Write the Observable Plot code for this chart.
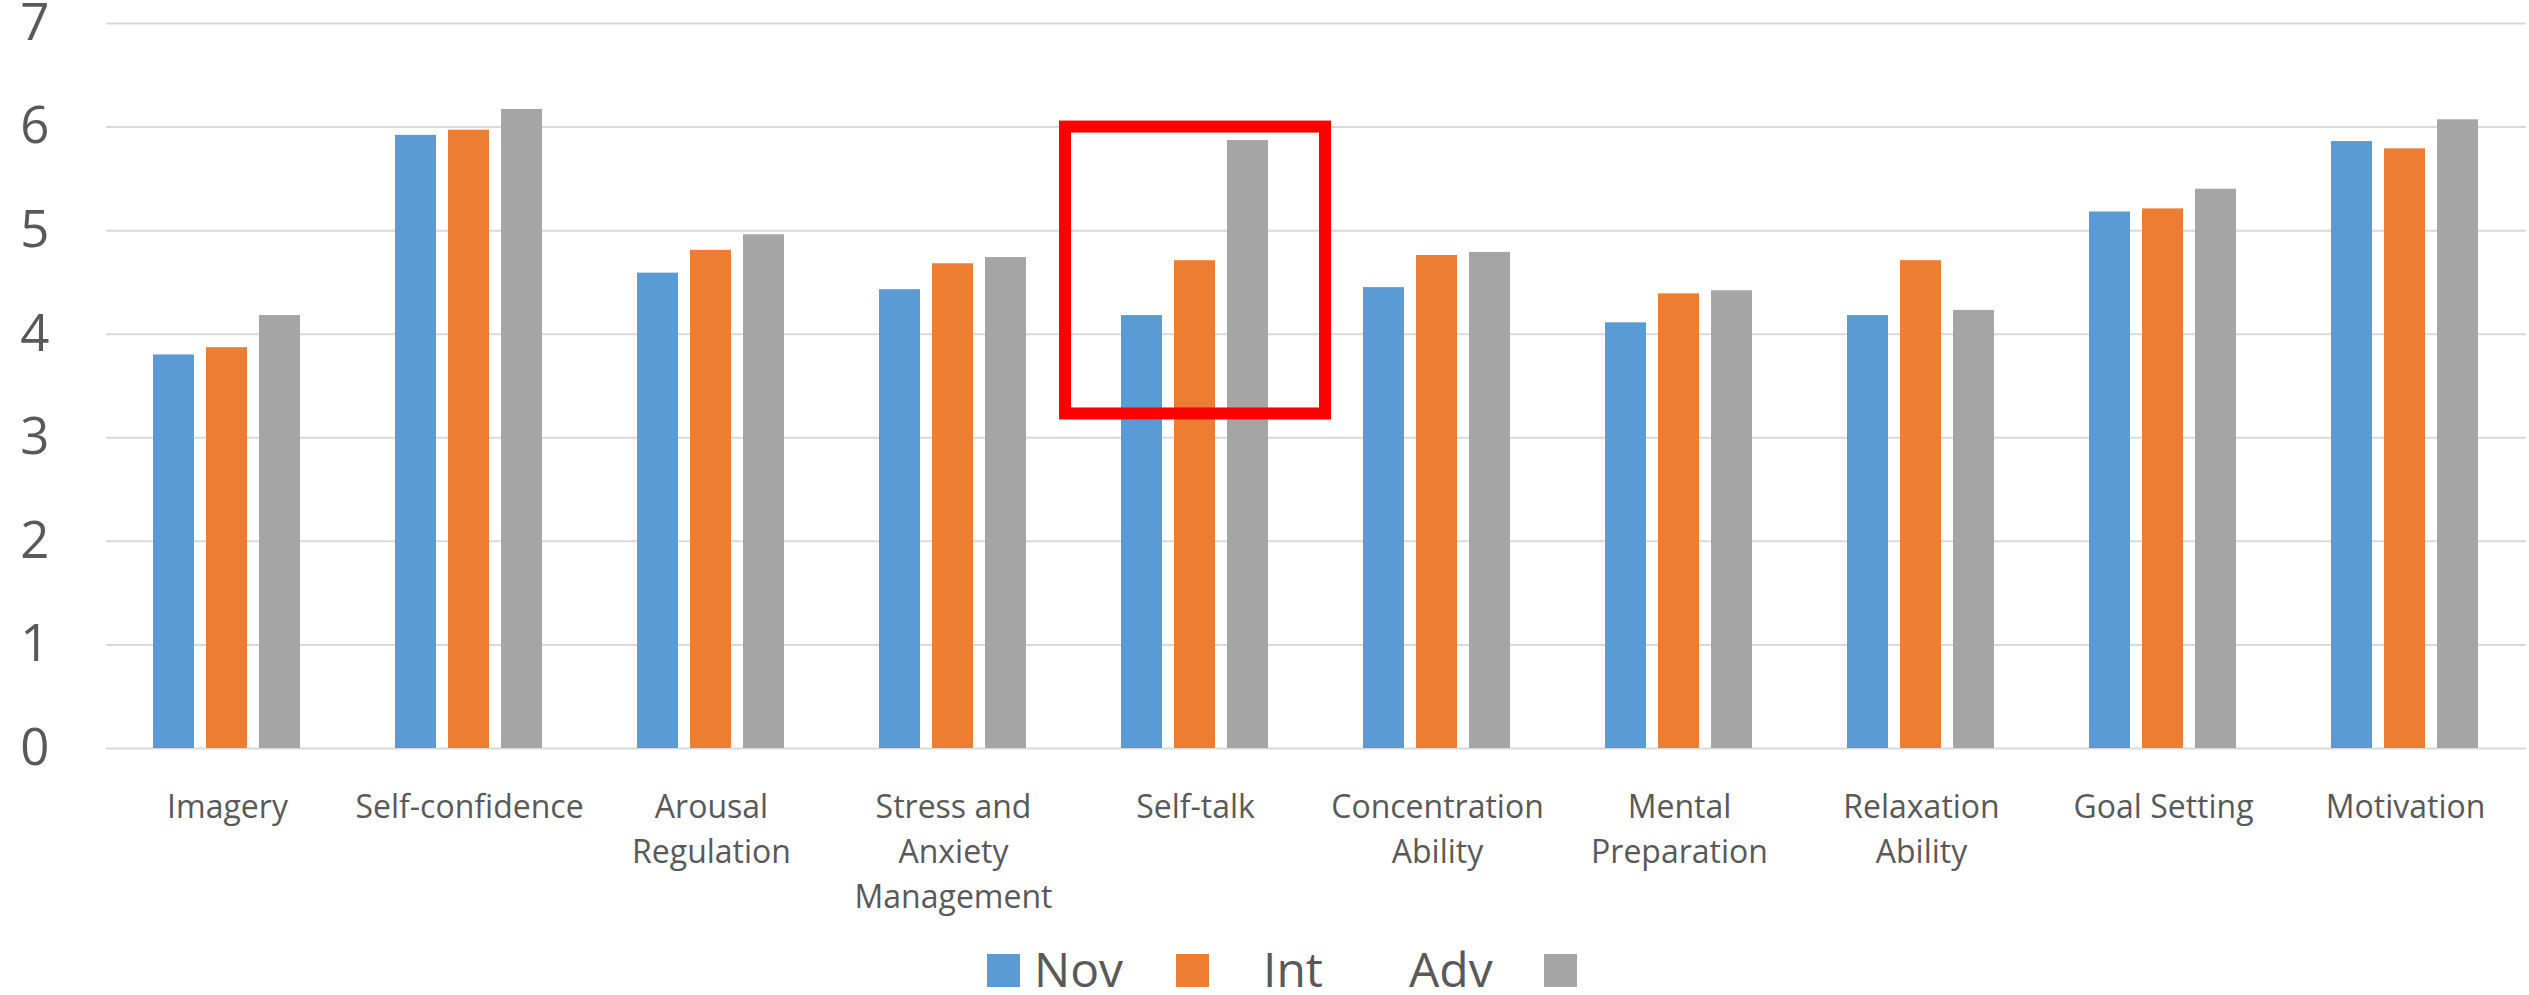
<!DOCTYPE html>
<html><head><meta charset="utf-8">
<script src="https://cdn.jsdelivr.net/npm/d3@7"></script>
<script src="https://cdn.jsdelivr.net/npm/@observablehq/plot@0.6"></script>
<style>body{margin:0;background:#fff;} #chart svg{display:block;}</style>
</head><body><div id="chart"></div><script>
const categories = ["Imagery","Self-confidence","Arousal Regulation","Stress and Anxiety Management","Self-talk","Concentration Ability","Mental Preparation","Relaxation Ability","Goal Setting","Motivation"];
const tickLabels = ["Imagery","Self-confidence","Arousal\nRegulation","Stress and\nAnxiety\nManagement","Self-talk","Concentration\nAbility","Mental\nPreparation","Relaxation\nAbility","Goal Setting","Motivation"];
const series = ["Nov","Int","Adv"];
const novValues = [3.80,5.92,4.59,4.43,4.18,4.45,4.11,4.18,5.18,5.86];
const intValues = [3.87,5.97,4.81,4.68,4.71,4.76,4.39,4.71,5.21,5.79];
const advValues = [4.18,6.17,4.96,4.74,5.87,4.79,4.42,4.23,5.40,6.07];
const seriesColors = ["#5b9bd5","#ed7d31","#a5a5a5"];
const yTicks = [0,1,2,3,4,5,6,7];
const highlight = [{category:"Self-talk", from:3.23, to:6}];

const valuesBySeries = [novValues, intValues, advValues];
const rows = categories.flatMap((c,i) => series.map((s,j) => ({category:c, series:s, value:valuesBySeries[j][i]})));

const chart = Plot.plot({
  width:2529, height:930,
  marginLeft:102, marginRight:0, marginTop:23, marginBottom:182,
  fx:{domain:categories, padding:0, label:null, axis:null},
  x:{domain:series, paddingInner:0.222, paddingOuter:0.861, axis:null},
  y:{domain:[0,7], axis:null},
  color:{domain:series, range:seriesColors},
  style:{fontFamily:"'Open Sans', sans-serif", color:"#595959", background:"#fff", overflow:"visible"},
  marks:[
    Plot.gridY(yTicks, {stroke:"#d9d9d9", strokeOpacity:1, strokeWidth:2}),
    Plot.axisY(yTicks, {tickSize:0, tickPadding:57, fontSize:51, fill:"#595959", label:null, tickFormat: d => String(d)}),
    Plot.axisFx({anchor:"bottom", tickSize:0, tickPadding:38, fontSize:32, lineHeight:1.4, fill:"#595959", label:null,
      tickFormat: c => tickLabels[categories.indexOf(c)]}),
    Plot.barY(rows, {fx:"category", x:"series", y:"value", fill:"series"}),
    Plot.rect(highlight, {fx:"category", y1:"from", y2:"to", stroke:"#ff0000", strokeWidth:12, fill:"none", insetLeft:-9, insetRight:-9})
  ]
});
document.getElementById("chart").appendChild(chart);

// legend (as in the original: swatch Nov, swatch Int, Adv swatch)
const legend = d3.create("svg").attr("width",2529).attr("height",65)
  .style("display","block").style("font-family","'Open Sans', sans-serif");
const items = [
  {type:"rect", x:987, color:seriesColors[0]},
  {type:"text", x:1034, text:series[0]},
  {type:"rect", x:1176, color:seriesColors[1]},
  {type:"text", x:1263, text:series[1]},
  {type:"text", x:1409, text:series[2]},
  {type:"rect", x:1544, color:seriesColors[2]}
];
for (const it of items) {
  if (it.type === "rect") legend.append("rect").attr("x",it.x).attr("y",24).attr("width",33).attr("height",33).attr("fill",it.color);
  else legend.append("text").attr("x",it.x).attr("y",57).attr("font-size",48).attr("fill","#595959").text(it.text);
}
document.getElementById("chart").appendChild(legend.node());
</script></body></html>
